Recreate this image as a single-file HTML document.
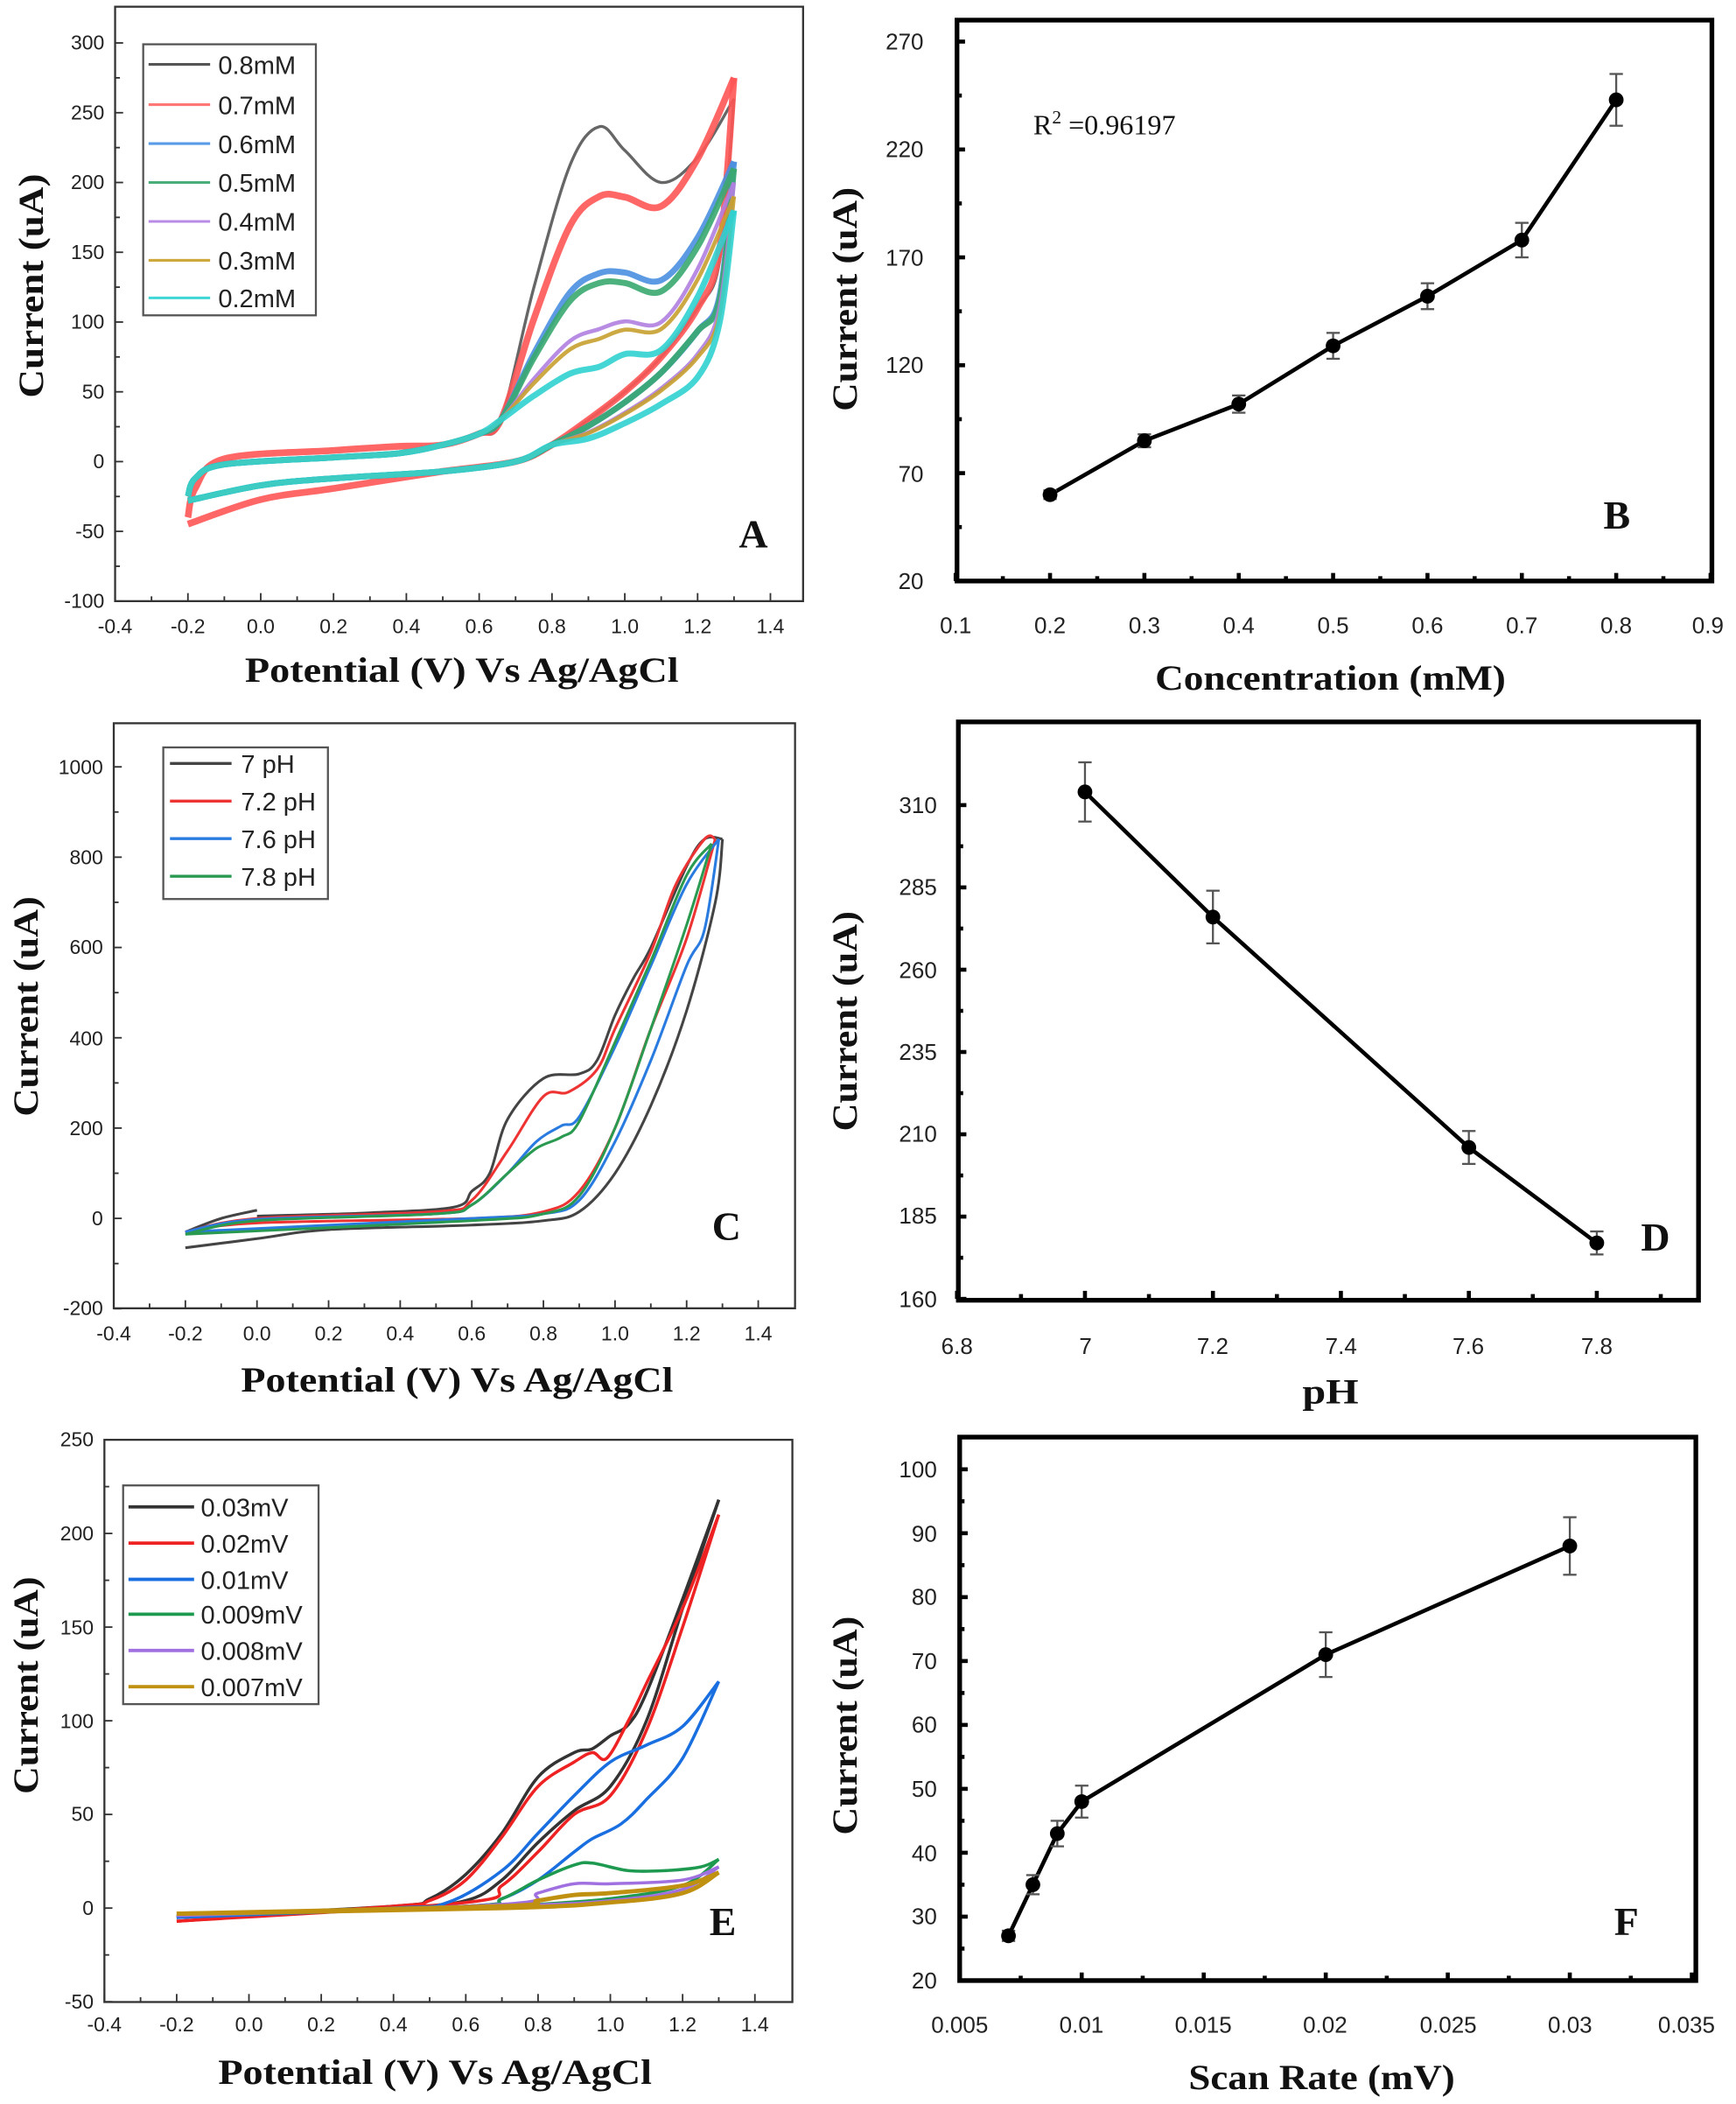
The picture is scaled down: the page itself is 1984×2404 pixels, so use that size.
<!DOCTYPE html>
<html><head><meta charset="utf-8"><style>
html,body{margin:0;padding:0;background:#fff;}
svg{display:block;}
.t{font-family:"Liberation Sans",sans-serif;font-size:15px;fill:#222;}
.c{font-family:"Liberation Sans",sans-serif;font-size:17px;fill:#222;}
.ti{font-family:"Liberation Serif",serif;font-weight:bold;font-size:26px;fill:#111;}
.lg{font-family:"Liberation Sans",sans-serif;font-size:19px;fill:#222;}
.let{font-family:"Liberation Serif",serif;font-weight:bold;font-size:30px;fill:#111;}
</style></head><body>
<svg id="s" xmlns="http://www.w3.org/2000/svg" width="1984" height="2404" viewBox="0 0 1297 1568" preserveAspectRatio="none">
<rect width="1297" height="1568" fill="#fff"/>
<g id="plots"></g>
<!-- Panel A -->
<rect x="86" y="5" width="514" height="443" fill="none" stroke="#333" stroke-width="1.5"/>
<g class="t" text-anchor="end">
<text x="78" y="37">300</text><text x="78" y="89">250</text><text x="78" y="141">200</text><text x="78" y="193">150</text><text x="78" y="245">100</text><text x="78" y="297">50</text><text x="78" y="349">0</text><text x="78" y="401">-50</text><text x="78" y="453">-100</text>
</g>
<g class="t" text-anchor="middle">
<text x="86" y="472">-0.4</text><text x="140.4" y="472">-0.2</text><text x="194.8" y="472">0.0</text><text x="249.2" y="472">0.2</text><text x="303.6" y="472">0.4</text><text x="358" y="472">0.6</text><text x="412.4" y="472">0.8</text><text x="466.8" y="472">1.0</text><text x="521.2" y="472">1.2</text><text x="575.6" y="472">1.4</text>
</g>
<text class="ti" x="183" y="508" textLength="324" lengthAdjust="spacingAndGlyphs">Potential (V) Vs Ag/AgCl</text>
<text class="ti" transform="translate(32,213) rotate(-90)" text-anchor="middle" textLength="167" lengthAdjust="spacingAndGlyphs">Current (uA)</text>
<text class="let" x="552" y="408">A</text>
<g id="legA">
<rect x="107" y="33" width="129" height="202" fill="#fff" stroke="#555" stroke-width="1.5"/>
<g stroke-width="2">
<line x1="111" y1="48" x2="157" y2="48" stroke="#555"/><line x1="111" y1="78" x2="157" y2="78" stroke="#f77"/><line x1="111" y1="107" x2="157" y2="107" stroke="#5a9be8"/><line x1="111" y1="136" x2="157" y2="136" stroke="#4aae78"/><line x1="111" y1="165" x2="157" y2="165" stroke="#b98be6"/><line x1="111" y1="194" x2="157" y2="194" stroke="#cfa83c"/><line x1="111" y1="222" x2="157" y2="222" stroke="#3ed6d6"/>
</g>
<g class="lg"><text x="163" y="55">0.8mM</text><text x="163" y="85">0.7mM</text><text x="163" y="114">0.6mM</text><text x="163" y="143">0.5mM</text><text x="163" y="172">0.4mM</text><text x="163" y="201">0.3mM</text><text x="163" y="229">0.2mM</text></g>
</g>

<!-- Panel B -->
<rect x="715" y="15" width="564" height="418" fill="none" stroke="#000" stroke-width="3.5"/>
<g class="c" text-anchor="end">
<text x="690" y="37">270</text><text x="690" y="117">220</text><text x="690" y="198">170</text><text x="690" y="278">120</text><text x="690" y="359">70</text><text x="690" y="439">20</text>
</g>
<g class="c" text-anchor="middle">
<text x="714" y="472">0.1</text><text x="784.5" y="472">0.2</text><text x="855" y="472">0.3</text><text x="925.5" y="472">0.4</text><text x="996" y="472">0.5</text><text x="1066.5" y="472">0.6</text><text x="1137" y="472">0.7</text><text x="1207.5" y="472">0.8</text><text x="1276" y="472">0.9</text>
</g>
<text class="ti" x="863" y="514" textLength="262" lengthAdjust="spacingAndGlyphs">Concentration (mM)</text>
<text class="ti" transform="translate(640,223) rotate(-90)" text-anchor="middle" textLength="167" lengthAdjust="spacingAndGlyphs">Current (uA)</text>
<text x="772" y="100" style="font-family:'Liberation Serif',serif;font-size:21px;fill:#111">R<tspan dy="-8" font-size="14">2</tspan><tspan dy="8"> =0.96197</tspan></text>
<text class="let" x="1198" y="394">B</text>

<!-- Panel C -->
<rect x="85" y="539" width="509" height="436" fill="none" stroke="#333" stroke-width="1.5"/>
<g class="t" text-anchor="end">
<text x="77" y="577">1000</text><text x="77" y="644">800</text><text x="77" y="711">600</text><text x="77" y="779">400</text><text x="77" y="846">200</text><text x="77" y="913">0</text><text x="77" y="980">-200</text>
</g>
<g class="t" text-anchor="middle">
<text x="85" y="999">-0.4</text><text x="138.5" y="999">-0.2</text><text x="192" y="999">0.0</text><text x="245.5" y="999">0.2</text><text x="299" y="999">0.4</text><text x="352.5" y="999">0.6</text><text x="406" y="999">0.8</text><text x="459.5" y="999">1.0</text><text x="513" y="999">1.2</text><text x="566.5" y="999">1.4</text>
</g>
<text class="ti" x="180" y="1037" textLength="323" lengthAdjust="spacingAndGlyphs">Potential (V) Vs Ag/AgCl</text>
<text class="ti" transform="translate(28,750) rotate(-90)" text-anchor="middle" textLength="164" lengthAdjust="spacingAndGlyphs">Current (uA)</text>
<text class="let" x="532" y="924">C</text>
<rect x="122" y="557" width="123" height="113" fill="#fff" stroke="#555" stroke-width="1.5"/>
<g stroke-width="2.2">
<line x1="127" y1="569" x2="173" y2="569" stroke="#444"/><line x1="127" y1="597" x2="173" y2="597" stroke="#e33"/><line x1="127" y1="625" x2="173" y2="625" stroke="#2a7be0"/><line x1="127" y1="653" x2="173" y2="653" stroke="#2a9a50"/>
</g>
<g class="lg"><text x="180" y="576">7 pH</text><text x="180" y="604">7.2 pH</text><text x="180" y="632">7.6 pH</text><text x="180" y="660">7.8 pH</text></g>

<!-- Panel D -->
<rect x="716" y="538" width="553" height="431" fill="none" stroke="#000" stroke-width="3.5"/>
<g class="c" text-anchor="end">
<text x="700" y="606">310</text><text x="700" y="667">285</text><text x="700" y="729">260</text><text x="700" y="790">235</text><text x="700" y="851">210</text><text x="700" y="912">185</text><text x="700" y="974">160</text>
</g>
<g class="c" text-anchor="middle">
<text x="715" y="1009">6.8</text><text x="811" y="1009">7</text><text x="906" y="1009">7.2</text><text x="1002" y="1009">7.4</text><text x="1097" y="1009">7.6</text><text x="1193" y="1009">7.8</text>
</g>
<text class="ti" x="973" y="1046" textLength="42" lengthAdjust="spacingAndGlyphs">pH</text>
<text class="ti" transform="translate(640,761) rotate(-90)" text-anchor="middle" textLength="164" lengthAdjust="spacingAndGlyphs">Current (uA)</text>
<text class="let" x="1226" y="932">D</text>

<!-- Panel E -->
<rect x="78" y="1073" width="514" height="419" fill="none" stroke="#333" stroke-width="1.5"/>
<g class="t" text-anchor="end">
<text x="70" y="1078">250</text><text x="70" y="1148">200</text><text x="70" y="1218">150</text><text x="70" y="1288">100</text><text x="70" y="1357">50</text><text x="70" y="1427">0</text><text x="70" y="1497">-50</text>
</g>
<g class="t" text-anchor="middle">
<text x="78" y="1514">-0.4</text><text x="132" y="1514">-0.2</text><text x="186" y="1514">0.0</text><text x="240" y="1514">0.2</text><text x="294" y="1514">0.4</text><text x="348" y="1514">0.6</text><text x="402" y="1514">0.8</text><text x="456" y="1514">1.0</text><text x="510" y="1514">1.2</text><text x="564" y="1514">1.4</text>
</g>
<text class="ti" x="163" y="1553" textLength="324" lengthAdjust="spacingAndGlyphs">Potential (V) Vs Ag/AgCl</text>
<text class="ti" transform="translate(28,1256) rotate(-90)" text-anchor="middle" textLength="162" lengthAdjust="spacingAndGlyphs">Current (uA)</text>
<text class="let" x="530" y="1442">E</text>
<rect x="92" y="1107" width="146" height="163" fill="#fff" stroke="#555" stroke-width="1.5"/>
<g stroke-width="2.5">
<line x1="96" y1="1123" x2="145" y2="1123" stroke="#333"/><line x1="96" y1="1150" x2="145" y2="1150" stroke="#e22"/><line x1="96" y1="1177" x2="145" y2="1177" stroke="#1a6fe0"/><line x1="96" y1="1203" x2="145" y2="1203" stroke="#1e9a50"/><line x1="96" y1="1230" x2="145" y2="1230" stroke="#a070e0"/><line x1="96" y1="1257" x2="145" y2="1257" stroke="#c09010"/>
</g>
<g class="lg"><text x="150" y="1130">0.03mV</text><text x="150" y="1157">0.02mV</text><text x="150" y="1184">0.01mV</text><text x="150" y="1210">0.009mV</text><text x="150" y="1237">0.008mV</text><text x="150" y="1264">0.007mV</text></g>

<!-- Panel F -->
<rect x="717" y="1071" width="550" height="405" fill="none" stroke="#000" stroke-width="3.5"/>
<g class="c" text-anchor="end">
<text x="700" y="1101">100</text><text x="700" y="1149">90</text><text x="700" y="1196">80</text><text x="700" y="1244">70</text><text x="700" y="1291">60</text><text x="700" y="1339">50</text><text x="700" y="1387">40</text><text x="700" y="1434">30</text><text x="700" y="1482">20</text>
</g>
<g class="c" text-anchor="middle">
<text x="717" y="1515">0.005</text><text x="808" y="1515">0.01</text><text x="899" y="1515">0.015</text><text x="990" y="1515">0.02</text><text x="1082" y="1515">0.025</text><text x="1173" y="1515">0.03</text><text x="1260" y="1515">0.035</text>
</g>
<text class="ti" x="888" y="1557" textLength="199" lengthAdjust="spacingAndGlyphs">Scan Rate (mV)</text>
<text class="ti" transform="translate(640,1286) rotate(-90)" text-anchor="middle" textLength="163" lengthAdjust="spacingAndGlyphs">Current (uA)</text>
<text class="let" x="1206" y="1442">F</text>
</svg>
<script>
(function(){
var g=document.getElementById('plots'),NS='http://www.w3.org/2000/svg';
function el(n,a){var e=document.createElementNS(NS,n);for(var k in a)e.setAttribute(k,a[k]);g.appendChild(e);return e;}
function lin(d0,d1,p0,p1){return function(v){return p0+(v-d0)*(p1-p0)/(d1-d0);};}
function cr(pts){var d='M'+pts[0][0].toFixed(1)+','+pts[0][1].toFixed(1);
 for(var i=0;i<pts.length-1;i++){var p0=pts[i-1]||pts[i],p1=pts[i],p2=pts[i+1],p3=pts[i+2]||p2;
 var c1=[p1[0]+(p2[0]-p0[0])/6,p1[1]+(p2[1]-p0[1])/6],c2=[p2[0]-(p3[0]-p1[0])/6,p2[1]-(p3[1]-p1[1])/6];
 d+='C'+c1[0].toFixed(1)+','+c1[1].toFixed(1)+' '+c2[0].toFixed(1)+','+c2[1].toFixed(1)+' '+p2[0].toFixed(1)+','+p2[1].toFixed(1);}return d;}
function curve(X,Y,data,col,w,op){var p=data.map(function(q){return [X(q[0]),Y(q[1])];});
 el('path',{d:cr(p),fill:'none',stroke:col,'stroke-width':w,'stroke-linejoin':'round',opacity:op||1});}
function ticks(X,Y,xs,ys,xm,ym,bot,left,len,w,col){
 xs.forEach(function(v,i){var L=(i%2==0)?len:len*0.6;el('line',{x1:X(v),x2:X(v),y1:bot,y2:bot-L,stroke:col,'stroke-width':w});});
 ys.forEach(function(v,i){var L=(i%2==0)?len:len*0.6;el('line',{x1:left,x2:left+L,y1:Y(v),y2:Y(v),stroke:col,'stroke-width':w});});}
function rng(a,b,s){var r=[];for(var v=a;v<=b+1e-9;v+=s)r.push(v);return r;}
// Panel A
var XA=lin(-0.4,1.4,86,575.6),YA=lin(0,300,344,32);
ticks(XA,YA,rng(-0.4,1.4,0.1),rng(-100,300,25),0,0,448,86,6,1.2,'#333');
var A=[['#555',240,200,260,1.0,2.2],['#f55',190,183,275,1.0,5],['#4a8fe0',135,130,215,0.85,4.5],['#3aa870',128,122,210,0.85,4.5],['#b07fe0',95,100,200,0.7,3],['#c8a030',88,95,190,0.68,3],['#30d0d0',68,80,180,0.55,4.5]];
A.forEach(function(a,i){var P=a[1],D=a[2],E=a[3],r=a[4];
 var off=(a[0]=='#f55')?1.6:1;
 var up=[[-0.2,-25*off],[-0.18,-12*off],[-0.1,-2+(off>1?4:0)],[0.2,3+(off>1?5:0)],[0.38,6+(off>1?5:0)],[0.5,12],[0.6,20],[0.66,30],[0.75,30+0.45*(P-30)],[0.85,30+0.87*(P-30)],[0.93,P],[1.0,(P+D)/2+3],[1.1,D],[1.2,(D+E)/2-12],[1.3,E]];
 var dn=[[1.3,E],[1.26,E*0.55],[1.2,110*r],[1.1,75*r],[1.0,50*r],[0.9,30*r],[0.8,12],[0.7,0],[0.5,-7],[0.2,-12*off],[0,-17*off],[-0.2,-28*off]];
 curve(XA,YA,up,a[0],a[5],0.9);curve(XA,YA,dn,a[0],a[5],0.9);});
// Panel B
var XB=lin(0.1,0.9,714,1278),YB=lin(20,270,433,31);
ticks(XB,YB,rng(0.1,0.9,0.05),rng(20,270,25),0,0,433,715,6,3,'#000');
var B=[[0.2,60,2],[0.3,85,3],[0.4,102,4],[0.5,129,6],[0.6,152,6],[0.7,178,8],[0.8,243,12]];
el('polyline',{points:B.map(function(p){return XB(p[0])+','+YB(p[1]);}).join(' '),fill:'none',stroke:'#000','stroke-width':3});
function eb(X,Y,pts){pts.forEach(function(p){var x=X(p[0]);el('line',{x1:x,x2:x,y1:Y(p[1]-p[2]),y2:Y(p[1]+p[2]),stroke:'#555','stroke-width':1.5});
 [p[1]-p[2],p[1]+p[2]].forEach(function(v){el('line',{x1:x-5,x2:x+5,y1:Y(v),y2:Y(v),stroke:'#555','stroke-width':1.5});});
 el('circle',{cx:x,cy:Y(p[1]),r:5.5,fill:'#000'});});}
eb(XB,YB,B);
// Panel C
var XC=lin(-0.4,1.4,85,566.5),YC=lin(0,1000,908,571.5);
ticks(XC,YC,rng(-0.4,1.4,0.1),rng(-200,1000,100),0,0,975,85,6,1.2,'#333');
var C=[['#444',[[-0.2,-30],[-0.1,0],[0,18]],[[0,5],[0.3,12],[0.55,25],[0.6,60],[0.65,100],[0.7,220],[0.8,310],[0.9,320],[0.95,350],[1.0,450],[1.05,530],[1.1,600],[1.2,780],[1.25,840],[1.3,840]],[[1.3,840],[1.28,700],[1.2,460],[1.1,250],[1.0,100],[0.9,15],[0.8,-5],[0.6,-15],[0.2,-25],[0,-45],[-0.2,-65]]],
['#e33',null,[[-0.2,-30],[0,0],[0.5,15],[0.6,40],[0.7,150],[0.8,270],[0.87,280],[0.95,330],[1.0,420],[1.1,590],[1.17,740],[1.25,840],[1.28,840]],[[1.28,840],[1.2,620],[1.1,420],[1.0,200],[0.9,60],[0.8,15],[0.6,0],[0,-10],[-0.2,-30]]],
['#2a7be0',null,[[-0.2,-30],[0,-2],[0.5,10],[0.6,30],[0.7,100],[0.78,170],[0.85,205],[0.9,225],[1.0,380],[1.1,560],[1.2,740],[1.29,840]],[[1.29,840],[1.25,640],[1.2,560],[1.1,350],[1.0,170],[0.9,40],[0.8,10],[0.6,0],[-0.2,-30]]],
['#2a9a50',null,[[-0.2,-35],[0,-5],[0.5,10],[0.6,30],[0.7,100],[0.78,155],[0.85,180],[0.9,215],[1.0,390],[1.1,570],[1.2,760],[1.27,830]],[[1.27,830],[1.2,650],[1.1,420],[1.0,200],[0.9,50],[0.8,10],[0.6,-5],[-0.2,-35]]]];
C.forEach(function(c){if(c[1])curve(XC,YC,c[1],c[0],2);curve(XC,YC,c[2],c[0],2);curve(XC,YC,c[3],c[0],2);});
// Panel D
var XD=lin(6.8,7.8,715,1193),YD=lin(160,310,968,600);
ticks(XD,YD,rng(6.8,7.9,0.1),rng(160,310,12.5),0,0,968,716,6,3,'#000');
var D=[[7,314,9],[7.2,276,8],[7.6,206,5],[7.8,177,3.5]];
el('polyline',{points:D.map(function(p){return XD(p[0])+','+YD(p[1]);}).join(' '),fill:'none',stroke:'#000','stroke-width':3});
eb(XD,YD,D);
// Panel E
var XE=lin(-0.4,1.4,78,564),YE=lin(0,250,1422,1073);
ticks(XE,YE,rng(-0.4,1.4,0.1),rng(-50,250,25),0,0,1492,78,6,1.2,'#333');
var E=[['#333',[[-0.2,-5],[0.4,1],[0.5,5],[0.6,18],[0.7,40],[0.8,70],[0.9,83],[0.95,85],[1.0,92],[1.05,98],[1.1,115],[1.2,165],[1.3,218]],[[1.3,218],[1.2,160],[1.1,100],[1.0,65],[0.9,52],[0.8,35],[0.7,15],[0.6,4],[0.4,0],[-0.2,-5]]],
['#e22',[[-0.2,-7],[0.4,1],[0.5,4],[0.6,15],[0.7,38],[0.8,65],[0.9,78],[0.95,83],[0.99,80],[1.05,100],[1.1,120],[1.2,160],[1.3,210]],[[1.3,210],[1.2,150],[1.1,95],[1.0,60],[0.9,50],[0.8,30],[0.7,12],[0.6,3],[-0.2,-7]]],
['#1a6fe0',[[-0.2,-5],[0.4,0],[0.55,3],[0.7,20],[0.8,40],[0.9,60],[1.0,78],[1.1,87],[1.2,97],[1.3,121]],[[1.3,121],[1.2,80],[1.1,58],[1.03,45],[0.95,37],[0.9,30],[0.8,15],[0.7,5],[0.6,1],[-0.2,-5]]],
['#1e9a50',[[-0.2,-4],[0.6,1],[0.7,5],[0.8,15],[0.9,23],[0.95,24],[1.05,20],[1.15,20],[1.25,22],[1.3,26]],[[1.3,26],[1.2,12],[1.0,5],[0.8,2],[0.6,0],[-0.2,-4]]],
['#a070e0',[[-0.2,-4],[0.7,2],[0.8,8],[0.9,13],[1.0,13],[1.2,15],[1.3,22]],[[1.3,22],[1.2,10],[1.0,4],[0.7,1],[-0.2,-4]]],
['#c09010',[[-0.2,-3],[0.7,1],[0.8,4],[0.9,7],[1.0,8],[1.2,12],[1.3,19]],[[1.3,19],[1.2,8],[1.0,3],[0.7,0],[-0.2,-3]]]];
E.forEach(function(c,i){var w=(i==5)?3.2:2.3;curve(XE,YE,c[1],c[0],w);curve(XE,YE,c[2],c[0],w);});
// Panel F
var XF=lin(0.005,0.035,717,1264),YF=lin(20,100,1476,1095);
ticks(XF,YF,rng(0.005,0.035,0.0025),rng(20,100,5),0,0,1476,717,6,3,'#000');
var F=[[0.007,27,0.8],[0.008,35,1.5],[0.009,43,2],[0.01,48,2.5],[0.02,71,3.5],[0.03,88,4.5]];
el('polyline',{points:F.map(function(p){return XF(p[0])+','+YF(p[1]);}).join(' '),fill:'none',stroke:'#000','stroke-width':3});
eb(XF,YF,F);
})();
</script>
</body></html>
